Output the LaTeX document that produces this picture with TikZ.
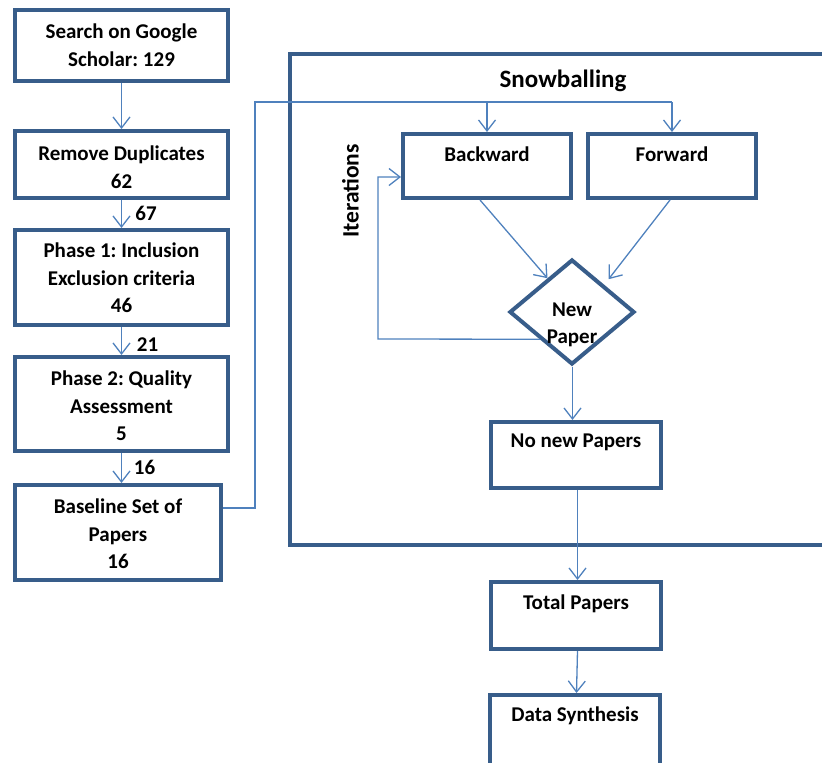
\documentclass[tikz,border=0pt]{standalone}
\usepackage{fontspec}
\setmainfont{Carlito}
\usetikzlibrary{arrows.meta,shapes.geometric,calc}
\definecolor{boxblue}{HTML}{385D8A}
\definecolor{linkblue}{HTML}{4F81BD}
\frenchspacing
\begin{document}
\begin{tikzpicture}[x=1pt,y=-1pt,
  box/.style={draw=boxblue,line width=4pt,inner sep=0pt,fill=white},
  lbl/.style={font=\fontsize{21}{27.5}\selectfont\bfseries,align=center,inner sep=0pt,anchor=north},
  num/.style={font=\fontsize{21}{27.5}\selectfont\bfseries,inner sep=0pt},
  link/.style={draw=linkblue,line width=1.3pt},
  tip/.style={link,-{Straight Barb[length=11pt,width=17pt,line width=1.3pt]}}]
\useasboundingbox (0,0) rectangle (822,763);
\clip (0,0) rectangle (822,763);

% snowballing frame (open to the right)
\draw[boxblue,line width=4pt] (830,54) -- (290,54) -- (290,545) -- (830,545);
\node[num,font=\fontsize{25}{30}\selectfont\bfseries,anchor=base] (snow) at (563,87) {Snowballing};
\node[num,font=\fontsize{23.5}{28}\selectfont\bfseries,rotate=90] (iter) at (350.5,191) {Iterations};

% left column: search and selection
\node[box,minimum width=213pt,minimum height=71pt] (s1) at (121.5,45.5) {};
\node[box,minimum width=213pt,minimum height=67pt] (s2) at (121.5,164.5) {};
\node[box,minimum width=213pt,minimum height=95pt] (s3) at (121.5,277.5) {};
\node[box,minimum width=213pt,minimum height=94pt] (s4) at (121.5,404) {};
\node[box,minimum width=206pt,minimum height=95pt] (s5) at (118,532.5) {};
\node[lbl] (s1t) at ([yshift=-16pt]s1.north) {Search on Google\\Scholar: 129};
\node[lbl] (s2t) at ([yshift=-17pt]s2.north) {Remove Duplicates\\62};
\node[lbl] (s3t) at ([yshift=-15pt]s3.north) {Phase 1: Inclusion\\Exclusion criteria\\46};
\node[lbl] (s4t) at ([yshift=-16pt]s4.north) {Phase 2: Quality\\Assessment\\5};
\node[lbl] (s5t) at ([yshift=-16pt]s5.north) {Baseline Set of\\Papers\\16};

\draw[tip] (s1.south) -- (s2.north);
\draw[tip] (s2.south) -- (s3.north);
\draw[tip] (s3.south) -- (s4.north);
\draw[tip] (s4.south) -- (s4.south |- s5.north);
\node[num] (n67) at (146,213) {67};
\node[num] (n21) at (147.5,345) {21};
\node[num] (n16) at (144.5,467) {16};

% snowballing steps
\node[box,minimum width=168pt,minimum height=64pt] (bw) at (487,166) {};
\node[box,minimum width=168pt,minimum height=64pt] (fw) at (672,166) {};
\node[lbl] (bwt) at ([yshift=-14.5pt]bw.north) {Backward};
\node[lbl] (fwt) at ([yshift=-14.5pt]fw.north) {Forward};

\node[box,diamond,minimum width=125pt,minimum height=105pt] (np) at (572,312) {};
\node[lbl] (npt) at ([yshift=9.5pt]np.center) {New\\Paper};

\node[box,minimum width=170pt,minimum height=66pt] (nn) at (576,455) {};
\node[box,minimum width=170pt,minimum height=67pt] (tp) at (576,615.5) {};
\node[box,minimum width=170pt,minimum height=70pt] (ds) at (575,730) {};
\node[lbl] (nnt) at ([yshift=-14pt]nn.north) {No new Papers};
\node[lbl] (tpt) at ([yshift=-15pt]tp.north) {Total Papers};
\node[lbl] (dst) at ([yshift=-14pt]ds.north) {Data Synthesis};

% baseline set feeds both directions
\coordinate (j1) at (255,508);
\coordinate (j2) at (255,102);
\draw[link] (s5.east |- j1) -- (j1) -- (j2) -- (fw.north |- j2);
\draw[tip] (bw.north |- j2) -- (bw.north);
\draw[tip] (fw.north |- j2) -- (fw.north);

% both directions lead to the check for new papers
\draw[tip] ([xshift=-7pt]bw.south) -- ($(np.west)!0.62!(np.north)$);
\draw[tip,shorten >=7pt] ([xshift=-2pt]fw.south) -- ($(np.north)!0.5!(np.east)$);

% iteration loop back to backward snowballing
\coordinate (l1) at (378,339);
\coordinate (l2) at (378,177);
\draw[tip] (np.south west) -- (l1) -- (l2) -- (bw.west |- l2);

% final steps
\draw[tip] ([xshift=0.5pt]np.south) -- ([xshift=0.5pt]np.south |- nn.north);
\draw[tip] ([xshift=1.5pt]nn.south) -- ([xshift=1.5pt]tp.north);
\draw[tip] ([xshift=1.5pt]tp.south) -- ([xshift=1.5pt]ds.north);
\end{tikzpicture}
\end{document}
